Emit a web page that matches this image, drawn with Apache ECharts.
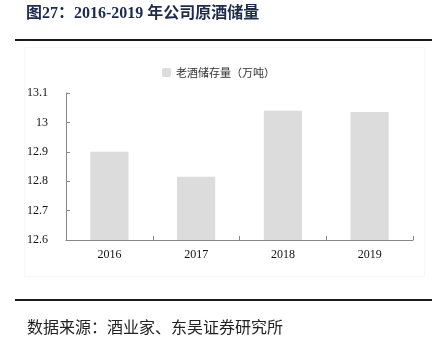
<!DOCTYPE html>
<html>
<head>
<meta charset="utf-8">
<script src="https://cdn.jsdelivr.net/npm/echarts@6/dist/echarts.min.js"></script>
<style>
  html, body { margin: 0; padding: 0; background: #fff; }
  #chart { width: 437px; height: 350px; }
</style>
</head>
<body>
<div id="chart"></div>
<script>
// Old-liquor storage (10k tonnes), 2016-2019
const years = ['2016', '2017', '2018', '2019'];
const storage = [12.90, 12.815, 13.04, 13.035];
const seriesName = '老酒储存量（万吨）';
const titleText = '图27：2016-2019 年公司原酒储量';
const sourceText = '数据来源：酒业家、东吴证券研究所';

const serif = '"Liberation Serif", "Noto Sans CJK SC", serif';
const chart = echarts.init(document.getElementById('chart'), null, { renderer: 'canvas' });

chart.setOption({
  backgroundColor: '#fff',
  animation: false,
  legend: {
    top: 62,
    left: 'center',
    itemWidth: 9,
    itemHeight: 9,
    itemGap: 3,
    textStyle: { fontSize: 11, color: '#333', fontFamily: '"Noto Sans CJK SC", sans-serif' },
    data: [seriesName]
  },
  grid: { left: 66, right: 24, top: 93, bottom: 110 },
  xAxis: {
    type: 'category',
    data: years,
    axisLine: { lineStyle: { color: '#888', width: 1 } },
    axisTick: { show: true, inside: true, length: 4, lineStyle: { color: '#888' } },
    axisLabel: { fontSize: 12, color: '#111', fontFamily: serif, margin: 9 }
  },
  yAxis: {
    type: 'value',
    min: 12.6,
    max: 13.1,
    interval: 0.1,
    splitLine: { show: false },
    axisLine: { show: true, lineStyle: { color: '#888', width: 1 } },
    axisTick: { show: true, inside: true, length: 4, lineStyle: { color: '#888' } },
    axisLabel: {
      fontSize: 12, color: '#111', fontFamily: serif, margin: 18,
      formatter: v => String(parseFloat(v.toFixed(1)))
    }
  },
  series: [{
    name: seriesName,
    type: 'bar',
    data: storage,
    barWidth: '44%',
    itemStyle: { color: '#dcdcdc' }
  }],
  graphic: [
    {
      type: 'text', left: 26, top: 6,
      style: { text: titleText, fontSize: 16, fontWeight: 'bold', fill: '#1d2b4c', fontFamily: serif }
    },
    {
      type: 'rect', shape: { x: 15, y: 39, width: 417, height: 2 },
      style: { fill: '#1a1a1a' }
    },
    {
      type: 'rect', shape: { x: 24.5, y: 47.5, width: 400, height: 229 },
      style: { fill: 'none', stroke: '#f7f7f7', lineWidth: 1 }, z: -1
    },
    {
      type: 'rect', shape: { x: 15, y: 299, width: 417, height: 2 },
      style: { fill: '#1a1a1a' }
    },
    {
      type: 'text', left: 27, top: 319,
      style: { text: sourceText, fill: '#222', fontSize: 16, fontFamily: '"Noto Sans CJK SC", sans-serif' }
    }
  ]
});
</script>
</body>
</html>
